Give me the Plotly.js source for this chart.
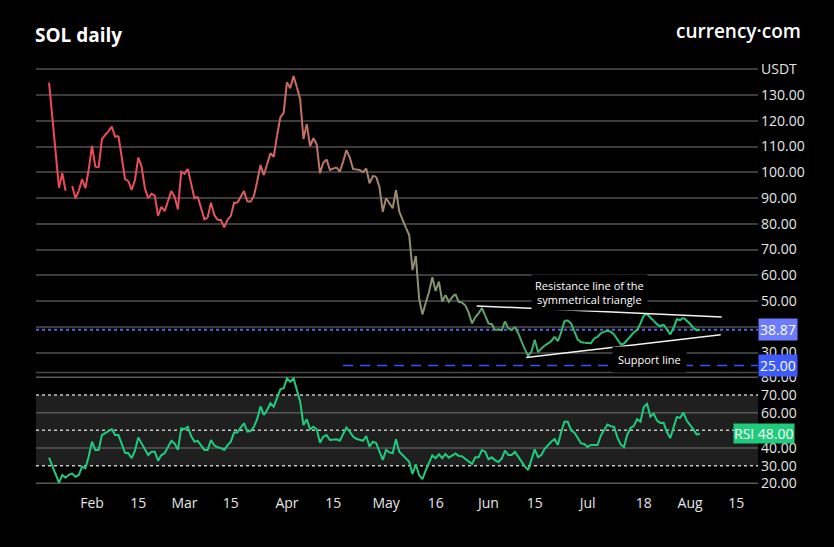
<!DOCTYPE html>
<html><head><meta charset="utf-8">
<script src="https://cdn.plot.ly/plotly-3.0.1.min.js"></script>
<style>html,body{margin:0;padding:0;background:#000;}#chart{width:834px;height:547px;}</style>
</head><body><div id="chart"></div>
<script>
// ---------- DATA ----------
const startDate = '2022-01-19';
const priceJan = [134.8, 121, 107.5, 94.0, 99.6, 92.8, null, 94.7, 89.9, 92.8, 97.3, 93.8, 101];
const priceFeb = [110.2, 102.2, 101.8, 112.9, 114.5, 116, 117.7, 113.8, 114.1, 105.7, 97.3, 96.6, 93.1, 97, 105.7, 102.2, 93.8, 89.9, 91.6, 90.9, 83.1, 86.6, 84.9, 88.8, 92.7, 90.5, 85.6, 100.2];
const priceMar = [99.4, 101.3, 96, 89.9, 90.5, 86, 81.7, 82.4, 88.2, 83.5, 81.5, 81.5, 78.6, 81.5, 83, 88.2, 88.2, 90.5, 92.7, 88.6, 88.6, 90.8, 96.5, 102.8, 98.9, 103.1, 107.4, 106, 114.2, 121.3, 123.1];
const priceApr = [134.9, 132.6, 137.4, 133, 128.4, 112.9, 118.7, 110.2, 113.2, 110.9, 99.6, 103.7, 105, 100.9, 101.4, 101.9, 100.2, 104.1, 108.6, 105.8, 101.3, 101.1, 100.9, 100, 101.5, 95.7, 98.5, 98.3, 94.2, 84.7];
const priceMay = [89.9, 88, 86, 93.1, 84.7, 81.5, 78.5, 75.6, 62, 67.5, 51, 44.8, 49.2, 53.5, 59.2, 53.9, 57.5, 49.8, 52.3, 49.7, 51.5, 52.7, 49.7, 49.4, 48.3, 45.5, 41.3, 43.7, 45.2, 47.3, 44.3];
const priceJun = [41.3, 41, 38.7, 39, 38.6, 42.1, 39.4, 38.8, 39.9, 37.5, 34.3, 31.3, 28.7, 30.3, 35, 30.2, 31.5, 32.7, 33.6, 34.4, 36.2, 34.4, 37.8, 42.3, 42.4, 41.3, 38.2, 35, 34.1, 33.8];
const priceJul = [33.8, 33.6, 35.5, 36.1, 37.5, 38.1, 38.4, 38.1, 37, 34.9, 33.2, 33.4, 35, 36.4, 37.8, 38.8, 41.3, 44.4, 45, 43.5, 42.3, 41, 40.2, 40.9, 39, 37, 39.6, 42.9, 42.6, 43.5, 42.4];
const priceAug = [41.2, 39.5, 38.7, 38.87];

const rsiJan = [34.5, 29.8, 25, 20.4, 24.7, 23.2, 24.8, 25.5, 23.7, 24.7, 29.4, 28.5, 35.2];
const rsiFeb = [43.6, 38.9, 38.9, 47.3, 48.5, 49.6, 50.6, 47.3, 47.3, 42.3, 37.3, 37, 34.2, 38.5, 46, 42.6, 39.3, 36, 37.9, 37.9, 32.8, 36, 37, 40.5, 44.1, 42.6, 38.9, 51.1];
const rsiMar = [50.7, 52, 46.7, 43.6, 44, 41.5, 38.9, 38.9, 44.5, 41.5, 40.4, 39.9, 38.9, 41.5, 43.6, 48.7, 48.7, 51.5, 54, 49.2, 49.6, 52, 56.4, 63.5, 58.7, 61.5, 65.3, 63.4, 68.3, 73.2, 73.8];
const rsiApr = [79.4, 77.5, 79.4, 72.8, 66.2, 53, 56.2, 50.6, 52, 50.6, 43, 46.4, 47.3, 44.5, 44.7, 44.9, 44.1, 48, 51.5, 49.2, 46.5, 45.2, 44.5, 44.1, 46.8, 40.7, 43.5, 42.8, 38, 33.2];
const rsiMay = [38.9, 37.5, 37, 44.9, 37.9, 36, 34, 32.2, 25.3, 30.8, 24.7, 22.3, 27.3, 31.5, 35.8, 34.2, 36.4, 34.2, 36.6, 34.5, 35.7, 36.9, 35.5, 35.3, 33.8, 32.2, 31, 34.7, 34.7, 38.8, 37.9];
const rsiJun = [33.6, 34.7, 33, 32.1, 34, 38.5, 36, 36, 37.8, 35, 32.3, 29.6, 27.5, 33, 39.2, 34.7, 36, 39.5, 41.8, 43.5, 45, 41.7, 49, 54.9, 54.9, 50, 48.7, 45.8, 42.6, 42.3];
const rsiJul = [40.6, 41.7, 41.7, 41.7, 47, 50, 53.3, 52.3, 52, 46, 42, 40.5, 47.5, 51.3, 52.5, 56.3, 54.8, 63.2, 65, 57.8, 59.5, 55.5, 54.2, 54.3, 49, 45.6, 52, 57.5, 57, 60, 55.5];
const rsiAug = [53.3, 50.5, 47.6, 48.0];

const xTickVals = ['2022-02-01','2022-02-15','2022-03-01','2022-03-15','2022-04-01','2022-04-15','2022-05-01','2022-05-16','2022-06-01','2022-06-15','2022-07-01','2022-07-18','2022-08-01','2022-08-15'];
const xTickText = ['Feb','15','Mar','15','Apr','15','May','16','Jun','15','Jul','18','Aug','15'];
const priceTickVals = [30, 40, 50, 60, 70, 80, 90, 100, 110, 120, 130, 140];
const priceTickText = ['30.00','40.00','50.00','60.00','70.00','80.00','90.00','100.00','110.00','120.00','130.00','USDT'];
const rsiTickVals = [20, 30, 40, 60, 70, 80];
const rsiTickText = ['20.00','30.00','40.00','60.00','70.00','80.00'];
const rsiSolidLevels = [20, 40, 60, 80];
const rsiDottedLevels = [30, 50, 70];
const lastPrice = 38.87;
const supportLevel = 25.00;
const supportLevelStart = '2022-04-18';
const lastRsi = 48.00;
const resistanceX = ['2022-05-28 10:00', '2022-08-10 14:00'];
const resistanceY = [48.1, 43.8];
const supportX = ['2022-06-12 10:00', '2022-08-10 07:00'];
const supportY = [28.1, 36.9];
const resistanceLabel = {x: '2022-07-01 16:00', y: 53.5, text: 'Resistance line of the<br>symmetrical triangle'};
const supportLabel = {x: '2022-07-19 18:00', y: 27.1, text: 'Support line'};

// ---------- BUILD ----------
const price = [].concat(priceJan, priceFeb, priceMar, priceApr, priceMay, priceJun, priceJul, priceAug);
const rsi = [].concat(rsiJan, rsiFeb, rsiMar, rsiApr, rsiMay, rsiJun, rsiJul, rsiAug);
const t0 = Date.parse(startDate + 'T00:00:00Z');
const dates = price.map((_, i) => new Date(t0 + i * 86400000).toISOString().slice(0, 10));

const FONT = 'Open Sans, Noto Sans, sans-serif';
const xRange = ['2022-01-15 01:10', '2022-08-21 13:40'];

// colour gradient of the price line (style only)
const colorStops = [[0,[242,72,90]],[40,[232,80,92]],[72,[207,107,98]],[95,[173,128,109]],[110,[147,144,112]],[125,[120,154,110]],[140,[80,166,108]],[160,[45,188,116]],[197,[30,204,124]]];
function colorAt(t) {
  for (let k = 0; k < colorStops.length - 1; k++) {
    const [a, ca] = colorStops[k], [b, cb] = colorStops[k + 1];
    if (t <= b) {
      const f = (t - a) / (b - a);
      const c = ca.map((v, j) => Math.round(v + (cb[j] - v) * f));
      return 'rgb(' + c.join(',') + ')';
    }
  }
  return 'rgb(30,204,124)';
}

const traces = [];
const chunk = 3;
for (let s = 0; s < price.length - 1; s += chunk) {
  const e = Math.min(s + chunk, price.length - 1);
  traces.push({
    type: 'scatter', mode: 'lines', x: dates.slice(s, e + 1), y: price.slice(s, e + 1),
    xaxis: 'x', yaxis: 'y', line: {color: colorAt((s + e) / 2), width: 2}, hoverinfo: 'skip', showlegend: false
  });
}
traces.push({
  type: 'scatter', mode: 'lines', x: dates, y: rsi, xaxis: 'x', yaxis: 'y2',
  line: {color: '#1fcc7c', width: 2}, hoverinfo: 'skip', showlegend: false
});

const shapes = [];
shapes.push({type: 'rect', xref: 'paper', x0: 0, x1: 1, yref: 'y2', y0: 30, y1: 70, fillcolor: '#1f1f1f', line: {width: 0}, layer: 'below'});
rsiSolidLevels.forEach(v => shapes.push({type: 'line', xref: 'paper', x0: 0, x1: 1, yref: 'y2', y0: v, y1: v, line: {color: '#585858', width: 1.5}, layer: 'between'}));
rsiDottedLevels.forEach(v => shapes.push({type: 'line', xref: 'paper', x0: 0, x1: 1, yref: 'y2', y0: v, y1: v, line: {color: '#c8c8c8', width: 1.5, dash: 'dot'}, layer: 'between'}));
shapes.push({type: 'line', xref: 'paper', x0: 0, x1: 1, yref: 'paper', y0: 0.2735, y1: 0.2735, line: {color: '#4a4a4a', width: 1.5}, layer: 'between'});
shapes.push({type: 'line', xref: 'paper', x0: 0, x1: 1, yref: 'y', y0: lastPrice, y1: lastPrice, line: {color: '#5563e6', width: 2, dash: 'dot'}, layer: 'between'});
shapes.push({type: 'line', xref: 'x', x0: supportLevelStart, x1: xRange[1], yref: 'y', y0: supportLevel, y1: supportLevel, line: {color: '#3355ff', width: 1.5, dash: '10px,7px'}, layer: 'between'});
shapes.push({type: 'line', xref: 'x', x0: resistanceX[0], x1: resistanceX[1], yref: 'y', y0: resistanceY[0], y1: resistanceY[1], line: {color: '#f2f2f2', width: 1.5}, layer: 'above'});
shapes.push({type: 'line', xref: 'x', x0: supportX[0], x1: supportX[1], yref: 'y', y0: supportY[0], y1: supportY[1], line: {color: '#f2f2f2', width: 1.5}, layer: 'above'});

const annotations = [
  {xref: 'paper', yref: 'paper', x: 1.0623, y: 1.0674, xanchor: 'right', yanchor: 'middle', showarrow: false,
   text: 'currency·com', font: {family: FONT, size: 19, color: '#ffffff', weight: 600}},
  {xref: 'x', yref: 'y', x: resistanceLabel.x, y: resistanceLabel.y, showarrow: false, text: resistanceLabel.text,
   font: {family: FONT, size: 11, color: '#ffffff'}, bgcolor: '#000000', borderpad: 3, align: 'center'},
  {xref: 'x', yref: 'y', x: supportLabel.x, y: supportLabel.y, showarrow: false, text: supportLabel.text,
   font: {family: FONT, size: 11, color: '#ffffff'}, bgcolor: '#000000', borderpad: 5},
  {xref: 'paper', yref: 'y', x: 1, y: lastPrice, xanchor: 'left', yanchor: 'middle', showarrow: false, text: lastPrice.toFixed(2),
   font: {family: FONT, size: 14, color: '#ffffff'}, bgcolor: '#6d7cff', borderpad: 1},
  {xref: 'paper', yref: 'y', x: 1, y: supportLevel, xanchor: 'left', yanchor: 'middle', showarrow: false, text: supportLevel.toFixed(2),
   font: {family: FONT, size: 14, color: '#ffffff'}, bgcolor: '#3d5afe', borderpad: 1},
  {xref: 'paper', yref: 'y2', x: 1, y: lastRsi, xanchor: 'right', xshift: 37, yanchor: 'middle', showarrow: false, text: 'RSI ' + lastRsi.toFixed(2),
   font: {family: FONT, size: 14, color: '#ffffff'}, bgcolor: '#1fcc7c', borderpad: 0}
];

const layout = {
  width: 834, height: 547,
  margin: {l: 36, r: 76, t: 60, b: 57},
  paper_bgcolor: '#000000', plot_bgcolor: '#000000',
  font: {family: FONT, color: '#e6e6e6', size: 14},
  title: {text: '<b>SOL daily</b>', font: {family: FONT, size: 19, color: '#ffffff'},
          x: 35 / 834, xanchor: 'left', xref: 'container', y: 1 - 35 / 547, yanchor: 'middle', yref: 'container'},
  showlegend: false,
  xaxis: {type: 'date', range: xRange, anchor: 'y2', tickvals: xTickVals, ticktext: xTickText, ticklabelstandoff: 3,
          showgrid: false, zeroline: false, showline: false, ticks: '', tickfont: {size: 14, color: '#e6e6e6'}, fixedrange: true},
  yaxis: {domain: [0.2744, 1], range: [22.43, 143.59], side: 'right', anchor: 'x', tickvals: priceTickVals, ticktext: priceTickText, ticklabelstandoff: 2,
          showgrid: true, gridcolor: '#3c3c3c', gridwidth: 2, zeroline: false, showline: false, ticks: '', tickfont: {size: 14, color: '#e6e6e6'}},
  yaxis2: {domain: [0, 0.2744], range: [16.21, 83.0], side: 'right', anchor: 'x', tickvals: rsiTickVals, ticktext: rsiTickText, ticklabelstandoff: 2,
           showgrid: false, zeroline: false, showline: false, ticks: '', tickfont: {size: 14, color: '#e6e6e6'}},
  shapes: shapes,
  annotations: annotations
};

Plotly.newPlot('chart', traces, layout, {staticPlot: true, displayModeBar: false});
</script>
</body></html>
